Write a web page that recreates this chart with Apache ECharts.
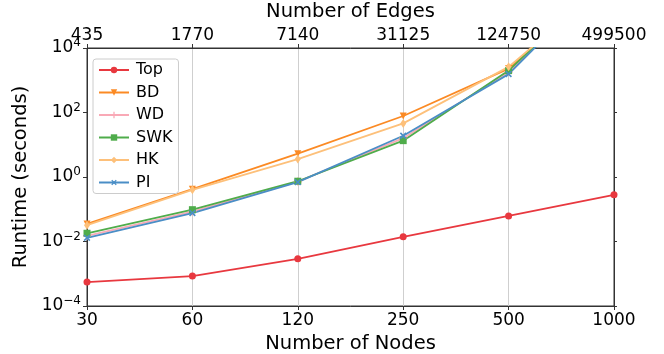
<!DOCTYPE html>
<html><head><meta charset="utf-8">
<script src="https://cdn.jsdelivr.net/npm/echarts@6/dist/echarts.min.js"></script>
<style>html,body{margin:0;padding:0;background:#fff}#c{width:664px;height:354px}</style>
</head><body><div id="c"></div>
<script>
const nodes = ['30','60','120','250','500','1000'];
const edges = ['435','1770','7140','31125','124750','499500'];
const yTicks = [-4,-2,0,2,4];
const top_ = [0.00055, 0.00085, 0.0029, 0.014, 0.062, 0.28];
const bd   = [0.035, 0.42, 5.3, 78, 2300, 1.5e6];
const wd   = [0.015, 0.085, 0.72, 16, 1800, 2.5e6];
const swk  = [0.018, 0.097, 0.74, 13.4, 1990, 2.5e6];
const hk   = [0.032, 0.40, 3.6, 46, 2600, 1.5e6];
const pi   = [0.013, 0.076, 0.69, 19, 1550, 3e6];

const FONT = 'DejaVu Sans';
const plus = 'path://M3.2,0h1.6v8h-1.6z M0,3.2h8v1.6h-8z';
function s(name, data, color, symbol, size, rot){
  return {name, type:'line', data, symbol, symbolSize:size, symbolRotate:rot||0,
    lineStyle:{color, width:1.8}, itemStyle:{color}, showSymbol:true, clip:true, z:2};
}
const supFmt = v => {
  const e = Math.round(Math.log10(v));
  if (yTicks.indexOf(e) < 0) return '';
  return '{b|10}{s|' + (e<0?'\u2212'+(-e):e) + '}';
};
const chart = echarts.init(document.getElementById('c'));
chart.setOption({
  animation:false,
  textStyle:{fontFamily:FONT},
  grid:{left:87,right:50,top:48,bottom:48,show:true,borderColor:'#333',borderWidth:1,
        containLabel:false, outerBoundsMode:'none'},
  legend:{
    orient:'vertical', left:93, top:59, itemWidth:30, itemHeight:8, itemGap:6.5,
    padding:[3,6,3,5], borderColor:'#ccc', borderWidth:1, borderRadius:3,
    backgroundColor:'rgba(255,255,255,0.8)',
    textStyle:{fontFamily:FONT, fontSize:16, color:'#000', padding:[0,0,0,2]},
    data:['Top','BD','WD','SWK','HK','PI']
  },
  xAxis:[
    {type:'category', data:nodes, boundaryGap:false, position:'bottom',
     name:'Number of Nodes', nameLocation:'middle', nameGap:25,
     nameTextStyle:{fontFamily:FONT,fontSize:19.5,color:'#000'},
     axisLine:{lineStyle:{color:'#333'}}, axisTick:{length:4,lineStyle:{color:'#333'}},
     axisLabel:{fontFamily:FONT,fontSize:17,color:'#000',margin:6},
     splitLine:{show:true,lineStyle:{color:'#cfcfcf',width:1}}},
    {type:'category', data:edges, boundaryGap:false, position:'top',
     name:'Number of Edges', nameLocation:'middle', nameGap:24,
     nameTextStyle:{fontFamily:FONT,fontSize:19.5,color:'#000'},
     axisLine:{lineStyle:{color:'#333'}}, axisTick:{length:4,lineStyle:{color:'#333'}},
     axisLabel:{fontFamily:FONT,fontSize:17,color:'#000',margin:4},
     splitLine:{show:false}}
  ],
  yAxis:[
    {type:'log', logBase:10, min:1e-4, max:1e4, interval:2,
     name:'Runtime (seconds)', nameLocation:'middle', nameGap:53,
     nameTextStyle:{fontFamily:FONT,fontSize:19.5,color:'#000'},
     axisLine:{show:true,lineStyle:{color:'#333'}}, axisTick:{show:true,length:4,lineStyle:{color:'#333'}},
     axisLabel:{formatter:supFmt, margin:6, rich:{
       b:{fontFamily:FONT,fontSize:17,color:'#000'},
       s:{fontFamily:FONT,fontSize:12,color:'#000',padding:[0,0,10,0]}}},
     splitLine:{show:false}},
    {type:'log', logBase:10, min:1e-4, max:1e4, interval:2, position:'right',
     axisLine:{show:true,lineStyle:{color:'#333'}}, axisTick:{show:true,length:3,lineStyle:{color:'#333'}},
     axisLabel:{show:false}, splitLine:{show:false}}
  ],
  series:[
    s('Top', top_, '#e8383f', 'circle', 7),
    s('BD', bd, '#fb8a24', 'triangle', 7, 180),
    s('WD', wd, '#f9a9b6', plus, 8),
    s('SWK', swk, '#4fac4b', 'rect', 7),
    s('HK', hk, '#fdc07a', 'diamond', [6,9]),
    s('PI', pi, '#4a8ec6', plus, 8, 45)
  ]
});
</script></body></html>
